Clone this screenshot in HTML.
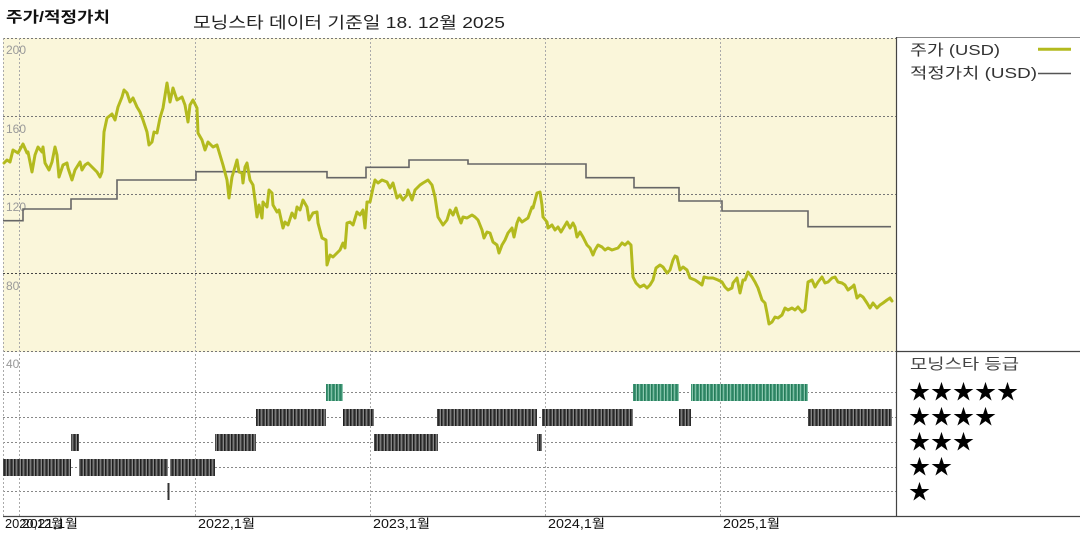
<!DOCTYPE html>
<html><head><meta charset="utf-8"><style>
html,body{margin:0;padding:0;background:#fff;}
svg{display:block;}
text{font-family:"Liberation Sans","Noto Sans CJK KR",sans-serif;}
</style></head><body>
<svg width="1080" height="540" viewBox="0 0 1080 540" xmlns="http://www.w3.org/2000/svg">
<defs>
<pattern id="dk" width="7" height="20" patternUnits="userSpaceOnUse">
<rect width="7" height="20" fill="#4a4a4a"/>
<rect x="0" width="1" height="20" fill="#1e1e1e"/>
<rect x="2" width="1" height="20" fill="#7a7a7a"/>
<rect x="4" width="1" height="20" fill="#2a2a2a"/>
<rect x="6" width="1" height="20" fill="#888"/>
</pattern>
<pattern id="gr" width="7" height="20" patternUnits="userSpaceOnUse">
<rect width="7" height="20" fill="#3f9474"/>
<rect x="0" width="1" height="20" fill="#257a58"/>
<rect x="2" width="1" height="20" fill="#7fbfa5"/>
<rect x="4" width="1" height="20" fill="#2e8464"/>
<rect x="6" width="1" height="20" fill="#8cc8b0"/>
</pattern>
</defs>

<!-- title -->
<text x="6" y="22" font-size="15" font-weight="bold" fill="#111" textLength="104" lengthAdjust="spacingAndGlyphs">주가/적정가치</text>
<text x="193" y="28" font-size="16" fill="#222" textLength="312" lengthAdjust="spacingAndGlyphs">모닝스타 데이터 기준일 18. 12월 2025</text>

<!-- price panel background -->
<rect x="3" y="38" width="894" height="314" fill="#faf6da"/>

<!-- horizontal gridlines price -->
<g stroke="#777" stroke-width="1" stroke-dasharray="2,2">
<line x1="3" y1="38.5" x2="897" y2="38.5"/>
<line x1="3" y1="116.5" x2="897" y2="116.5"/>
<line x1="3" y1="194.5" x2="897" y2="194.5"/>
<line x1="3" y1="351.5" x2="897" y2="351.5"/>
</g>
<line x1="3" y1="273.5" x2="897" y2="273.5" stroke="#444" stroke-width="1" stroke-dasharray="2,2"/>

<!-- rating gridlines -->
<g stroke="#888" stroke-width="1" stroke-dasharray="2,2">
<line x1="3" y1="392.5" x2="897" y2="392.5"/>
<line x1="3" y1="417.5" x2="897" y2="417.5"/>
<line x1="3" y1="442.5" x2="897" y2="442.5"/>
<line x1="3" y1="467.5" x2="897" y2="467.5"/>
<line x1="3" y1="491.5" x2="897" y2="491.5"/>
</g>

<!-- vertical gridlines -->
<g stroke="#aaa" stroke-width="1" stroke-dasharray="2,2">
<line x1="3.5" y1="38" x2="3.5" y2="517"/>
<line x1="19.5" y1="38" x2="19.5" y2="517"/>
<line x1="195.5" y1="38" x2="195.5" y2="517"/>
<line x1="370.5" y1="38" x2="370.5" y2="517"/>
<line x1="545.5" y1="38" x2="545.5" y2="517"/>
<line x1="720.5" y1="38" x2="720.5" y2="517"/>
</g>

<!-- y labels -->
<g font-size="12" fill="#999">
<text x="6" y="54">200</text>
<text x="6" y="133">160</text>
<text x="6" y="211">120</text>
<text x="6" y="290">80</text>
<text x="6" y="368">40</text>
</g>

<!-- fair value -->
<path d="M3,220.7 H23 V209 H71 V199 H117 V180 H196 V171.7 H327 V177.7 H366 V167.3 H409 V160 H468 V164 H586 V177.7 H634 V187.7 H679 V201 H722 V211 H808 V226.7 H891" fill="none" stroke="#666" stroke-width="1.6"/>

<!-- price -->
<polyline fill="none" stroke="#b3ba1e" stroke-width="3" stroke-linejoin="round" stroke-linecap="round" points="4,163 7,160 10,162 13,150 18,153 23,144 27,153 28,152 32,172 35,155 38,147 42,152 43,147 45,163 49,170 52,162 55,147 57,155 59,177 63,165 67,163 68,168 72,180 75,170 80,162 82,170 85,165 88,163 92,167 97,172 100,177 102,172 104,132 107,118 112,114 115,120 118,107 122,97 124,90 127,93 130,102 133,98 137,107 140,112 143,120 147,132 149,145 152,142 154,132 157,133 160,118 163,108 167,83 170,102 173,88 177,100 182,97 185,105 188,122 190,105 193,100 197,108 198,133 202,140 205,150 208,142 213,147 217,145 220,155 223,165 227,180 229,198 232,177 235,167 237,160 239,172 242,173 243,183 245,167 247,163 250,180 253,185 255,200 257,217 259,205 262,218 263,202 267,207 269,190 272,193 273,205 277,212 279,210 283,228 285,222 288,225 292,213 295,218 297,207 300,210 303,200 307,207 309,220 313,213 317,212 318,223 322,238 326,240 327,265 330,255 333,257 337,253 340,250 343,243 345,248 347,223 350,222 353,225 357,212 360,215 363,210 365,228 367,202 370,202 373,188 375,180 378,183 382,180 387,182 390,188 393,183 397,198 400,195 403,200 407,195 408,190 412,200 415,190 420,185 423,183 428,180 432,185 435,197 438,217 443,225 447,220 450,210 453,215 456,208 458,215 461,223 463,217 467,218 472,215 475,217 478,220 482,230 484,238 487,232 490,233 493,242 497,245 499,253 502,245 505,240 508,233 512,228 514,237 517,223 519,218 522,222 525,220 528,218 532,207 533,208 537,193 540,192 542,205 543,217 547,222 548,228 552,225 555,230 558,227 561,232 564,227 567,222 570,228 573,223 575,227 577,237 580,232 583,237 587,245 590,248 593,255 595,250 598,245 602,247 605,250 608,248 612,250 615,249 618,248 622,243 625,245 628,242 631,245 633,277 636,283 640,287 644,285 647,288 650,285 653,280 656,268 660,265 663,267 667,273 670,270 673,260 675,256 677,257 680,270 683,267 687,270 690,278 695,280 698,282 702,285 704,277 708,278 713,278 718,280 722,282 725,287 728,290 732,288 733,283 737,278 740,293 743,280 745,280 748,272 752,277 755,282 758,288 762,300 765,303 767,313 769,324 772,322 775,317 778,318 782,315 785,308 788,310 792,308 795,310 798,307 802,312 805,310 808,282 812,280 815,287 818,282 822,277 825,283 828,282 832,278 835,277 838,282 842,283 845,285 848,290 852,287 854,285 857,298 860,295 863,297 867,303 870,308 873,303 877,308 880,305 883,303 887,300 890,298 892,301"/>

<!-- rating bars -->
<g fill="url(#gr)">
<rect x="326" y="384" width="17" height="17"/>
<rect x="633" y="384" width="46" height="17"/>
<rect x="691" y="384" width="117" height="17"/>
</g>
<g fill="url(#dk)">
<rect x="256" y="409" width="70" height="17"/>
<rect x="343" y="409" width="31" height="17"/>
<rect x="437" y="409" width="100" height="17"/>
<rect x="542" y="409" width="91" height="17"/>
<rect x="679" y="409" width="12" height="17"/>
<rect x="808" y="409" width="84" height="17"/>
<rect x="71" y="434" width="8" height="17"/>
<rect x="215" y="434" width="41" height="17"/>
<rect x="374" y="434" width="64" height="17"/>
<rect x="537" y="434" width="5" height="17"/>
<rect x="3" y="459" width="68" height="17"/>
<rect x="79" y="459" width="89" height="17"/>
<rect x="170" y="459" width="45" height="17"/>
</g>
<rect x="167.5" y="483" width="2" height="17" fill="#333"/>

<!-- frame lines -->
<line x1="897" y1="37.5" x2="1080" y2="37.5" stroke="#888" stroke-width="1"/>
<line x1="896.5" y1="37" x2="896.5" y2="517" stroke="#444" stroke-width="1.2"/>
<line x1="897" y1="351.5" x2="1080" y2="351.5" stroke="#444" stroke-width="1.2"/>
<line x1="3" y1="516.5" x2="1080" y2="516.5" stroke="#444" stroke-width="1.2"/>

<!-- x labels -->
<g font-size="12.5" fill="#111">
<text x="5" y="528" textLength="58" lengthAdjust="spacingAndGlyphs">2020,12월</text>
<text x="22" y="528" textLength="56" lengthAdjust="spacingAndGlyphs">2021,1월</text>
<text x="198" y="528" textLength="57" lengthAdjust="spacingAndGlyphs">2022,1월</text>
<text x="373" y="528" textLength="57" lengthAdjust="spacingAndGlyphs">2023,1월</text>
<text x="548" y="528" textLength="57" lengthAdjust="spacingAndGlyphs">2024,1월</text>
<text x="723" y="528" textLength="57" lengthAdjust="spacingAndGlyphs">2025,1월</text>
</g>

<!-- legend -->
<text x="910" y="55" font-size="15" fill="#333" textLength="90" lengthAdjust="spacingAndGlyphs">주가 (USD)</text>
<line x1="1038" y1="49.3" x2="1071" y2="49.3" stroke="#b3ba1e" stroke-width="3"/>
<text x="910" y="78" font-size="15" fill="#333" textLength="127" lengthAdjust="spacingAndGlyphs">적정가치 (USD)</text>
<line x1="1038" y1="73.5" x2="1071" y2="73.5" stroke="#555" stroke-width="1.5"/>

<text x="910" y="369" font-size="15" fill="#444" textLength="109" lengthAdjust="spacingAndGlyphs">모닝스타 등급</text>
<g font-size="21" fill="#000" style="font-family:'DejaVu Sans',sans-serif">
<text x="909 931 953 975 997" y="399">★★★★★</text>
<text x="909 931 953 975" y="424">★★★★</text>
<text x="909 931 953" y="449">★★★</text>
<text x="909 931" y="474">★★</text>
<text x="909" y="499">★</text>
</g>
</svg>
</body></html>
